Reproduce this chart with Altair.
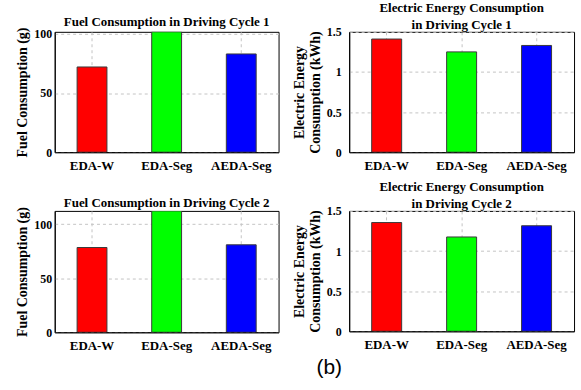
import altair as alt
import pandas as pd

# Control strategies compared in every panel
methods = ["EDA-W", "EDA-Seg", "AEDA-Seg"]
bar_colors = ["#ff0000", "#00ff00", "#0000ff"]

# Fuel consumption (g)
fuel_cycle1 = [72.0, 101.7, 83.0]
fuel_cycle2 = [78.5, 112.4, 81.0]

# Electric energy consumption (kWh)
elec_cycle1 = [1.41, 1.25, 1.33]
elec_cycle2 = [1.355, 1.175, 1.315]

fuel_ticks = [0, 50, 100]
elec_ticks = [0, 0.5, 1, 1.5]

SERIF = "Liberation Serif"
GRID = "#c4c4c4"


def panel(values, title, ytitle, ymax, ticks, w, h, lab_pad, title_off):
    df = pd.DataFrame({"method": methods, "value": values})
    return (
        alt.Chart(
            df,
            title=alt.TitleParams(
                title, font=SERIF, fontSize=13, fontWeight="bold",
                color="black", offset=title_off, lineHeight=17,
                anchor="middle", frame="group",
            ),
        )
        .mark_bar(stroke="#3a3a3a", strokeWidth=1, clip=True)
        .encode(
            x=alt.X(
                "method:N", sort=methods,
                scale=alt.Scale(paddingInner=0.6, paddingOuter=0.3),
                axis=alt.Axis(
                    title=None, labelAngle=0, grid=True, ticks=False,
                    tickSize=0, labelPadding=7, labelFontSize=13,
                ),
            ),
            y=alt.Y(
                "value:Q",
                scale=alt.Scale(domain=[0, ymax], nice=False, zero=True),
                axis=alt.Axis(
                    values=ticks, format=".2~f", title=ytitle, grid=True,
                    ticks=False, tickSize=0, labelPadding=lab_pad,
                    labelFontSize=12, titlePadding=4,
                    titleFontSize=14, titleLineHeight=16,
                ),
            ),
            color=alt.Color(
                "method:N",
                scale=alt.Scale(domain=methods, range=bar_colors),
                legend=None,
            ),
        )
        .properties(width=w, height=h)
    )


p1 = panel(fuel_cycle1, "Fuel Consumption in Driving Cycle 1",
           "Fuel Consumption (g)", max(fuel_cycle1), fuel_ticks,
           225, 121, 3, -2)
p2 = panel(elec_cycle1, ["Electric Energy Consumption", "in Driving Cycle 1"],
           ["Electric Energy", "Consumption (kWh)"], 1.5, elec_ticks,
           226, 121, 8, -6)
p3 = panel(fuel_cycle2, "Fuel Consumption in Driving Cycle 2",
           "Fuel Consumption (g)", max(fuel_cycle2), fuel_ticks,
           225, 122, 3, -3)
p4 = panel(elec_cycle2, ["Electric Energy Consumption", "in Driving Cycle 2"],
           ["Electric Energy", "Consumption (kWh)"], 1.5, elec_ticks,
           226, 121, 8, -6)

caption = (
    alt.Chart(pd.DataFrame({"label": ["(b)"]}))
    .mark_text(font="Liberation Sans", fontSize=21, color="black",
               align="center", baseline="alphabetic")
    .encode(text="label:N", x=alt.value(-20), y=alt.value(164))
)

chart = (
    alt.concat(
        p1, p2, p3, alt.layer(p4, caption),
        columns=2, spacing=alt.RowColnumber(row=59, column=71),
        bounds="flush",
    )
    .properties(padding={"left": 15, "top": 0, "right": 6, "bottom": 2})
    .configure(background="white")
    .configure_view(stroke="black", strokeWidth=1)
    .configure_axis(
        labelFont=SERIF, labelFontWeight="bold",
        labelColor="black", titleFont=SERIF,
        titleFontWeight="bold", titleColor="black", domainColor="black",
        gridColor=GRID, gridDash=[3, 3], gridWidth=1,
    )
)

chart.save("out.html", embed_options={"renderer": "svg", "actions": False})
